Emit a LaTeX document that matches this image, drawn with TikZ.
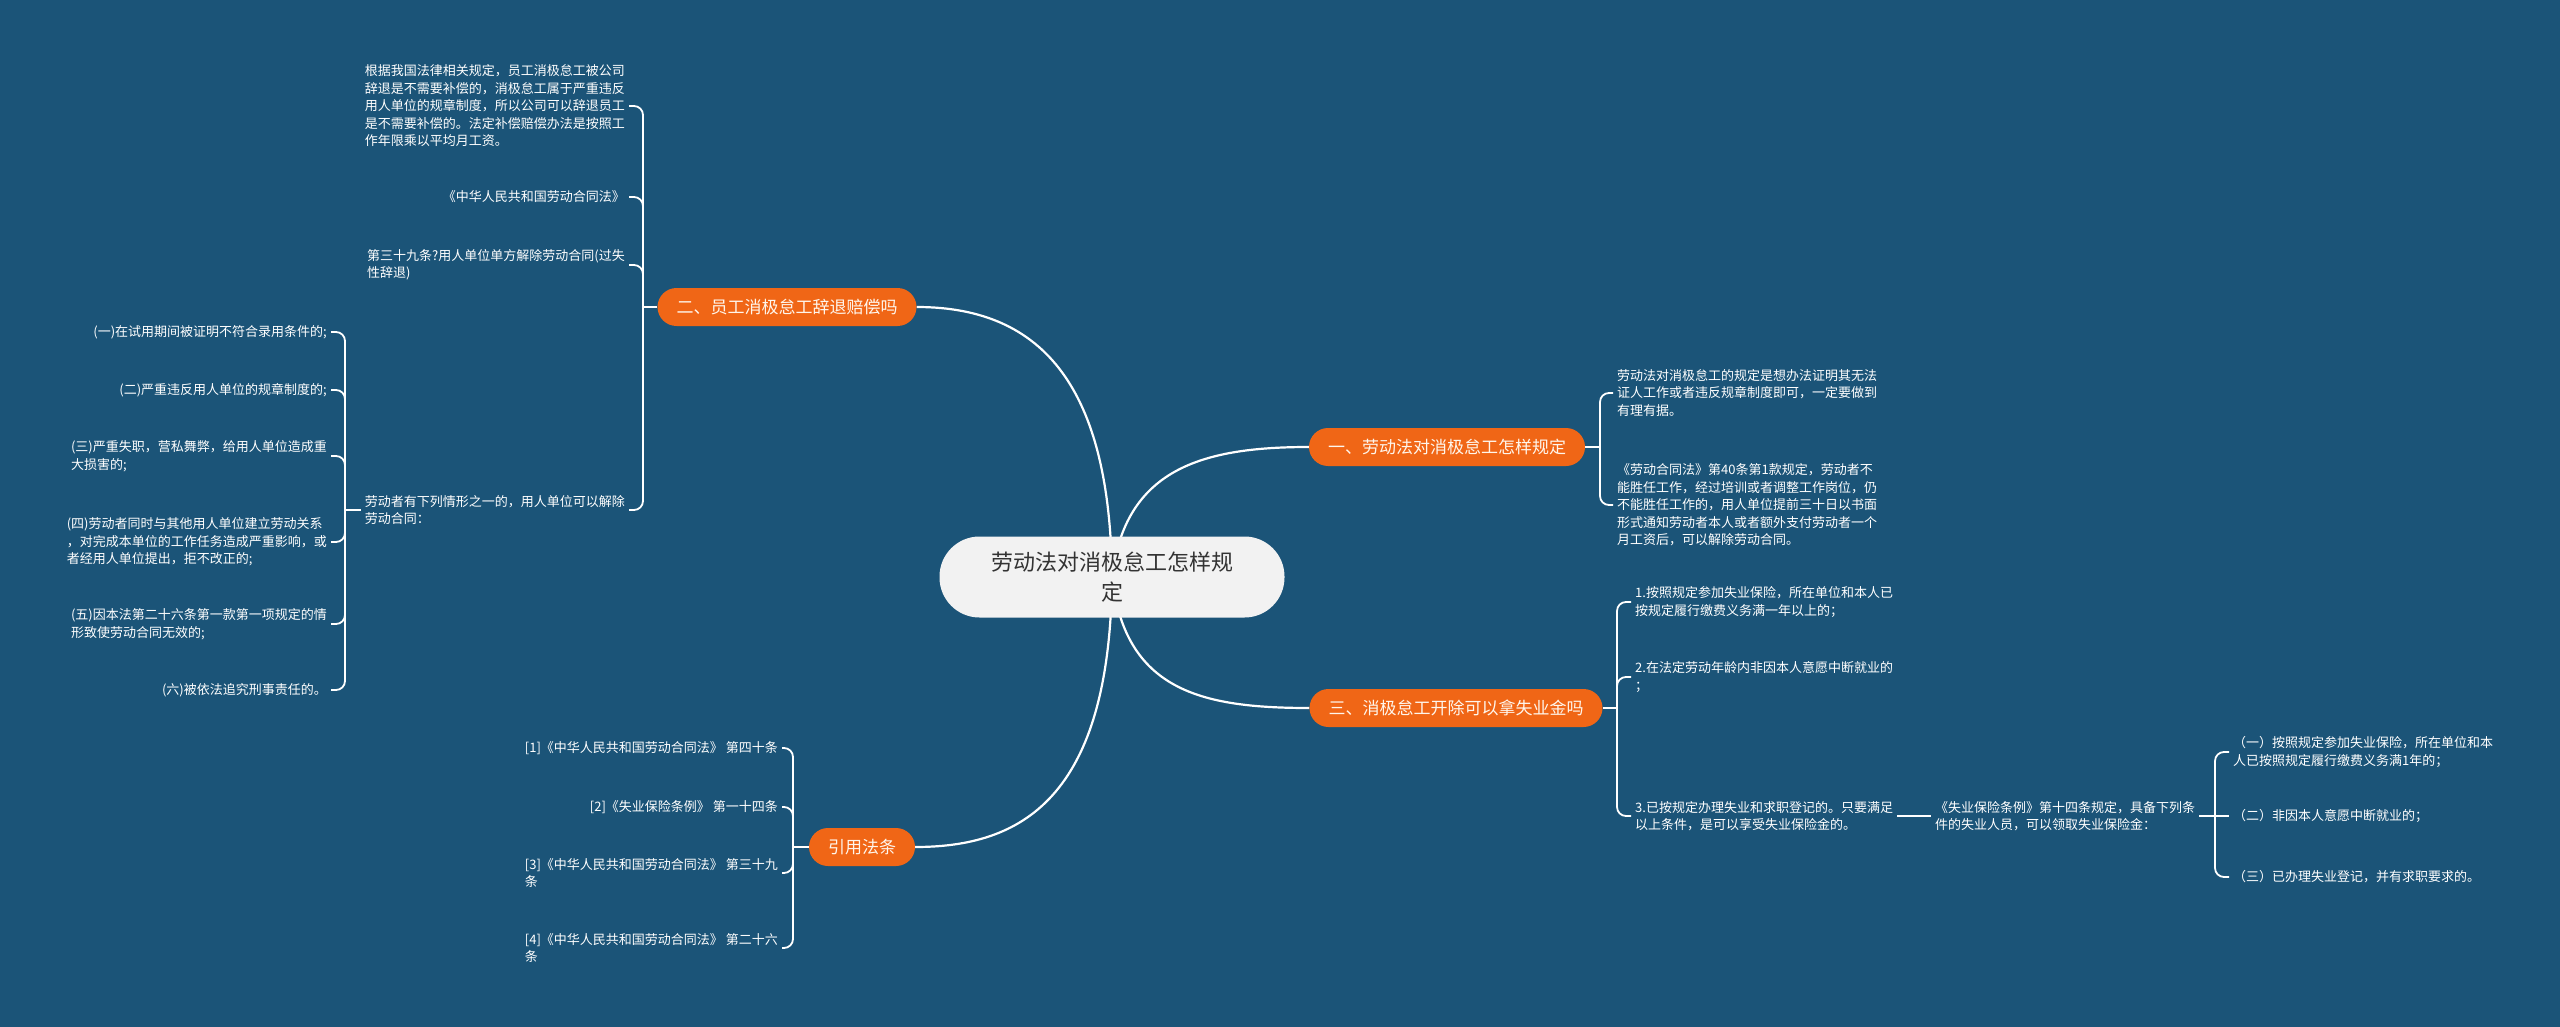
\documentclass[tikz,border=0pt]{standalone}
\usepackage{fontspec}
\setmainfont{Noto Sans CJK SC}
\definecolor{bgc}{RGB}{27,84,120}
\definecolor{orn}{RGB}{240,102,22}
\definecolor{cgray}{RGB}{242,242,242}
\definecolor{ctext}{RGB}{51,51,51}
\definecolor{otext}{RGB}{255,246,236}
\pgfdeclarelayer{bglayer}
\pgfdeclarelayer{lines}
\pgfsetlayers{bglayer,lines,main}
\begin{document}
\begin{tikzpicture}[x=1pt,y=-1pt,
  leafbase/.style={text=white, font=\fontsize{13}{17.5}\selectfont, inner sep=4pt, align=left},
  leafl/.style={leafbase, anchor=east},
  leafr/.style={leafbase, anchor=west},
  branchbox/.style={fill=orn, text=otext, font=\fontsize{17}{20}\selectfont, rounded corners=19pt, minimum height=38pt, inner xsep=19pt, inner ysep=0pt},
  rootbox/.style={fill=cgray, text=ctext, font=\fontsize{22}{30}\selectfont, rounded corners=40pt, minimum width=345pt, minimum height=81pt, align=center},
  mainline/.style={draw=white, line width=2.2pt},
  subline/.style={draw=white, line width=1.8pt, rounded corners=9pt},
]
\begin{pgfonlayer}{bglayer}
\fill[bgc] (0,0) rectangle (2560,1027);
\end{pgfonlayer}

% root and branches
\node[rootbox] (cen) at (1112,577) {劳动法对消极怠工怎样规\\定};
\node[branchbox] (b2) at (787,307) {二、员工消极怠工辞退赔偿吗};
\node[branchbox] (b1) at (1447,447) {一、劳动法对消极怠工怎样规定};
\node[branchbox] (b3) at (1456,708) {三、消极怠工开除可以拿失业金吗};
\node[branchbox] (b4) at (862,847) {引用法条};

% junctions
\coordinate (j2) at (643,307);
\coordinate (j4) at (345,510);
\coordinate (j1) at (1600,447);
\coordinate (j3) at (1617,708);
\coordinate (j5) at (2215,816);
\coordinate (j6) at (793,847);

% group 二
\node[leafl] (l1) at (629,106) {根据我国法律相关规定，员工消极怠工被公司\\辞退是不需要补偿的，消极怠工属于严重违反\\用人单位的规章制度，所以公司可以辞退员工\\是不需要补偿的。法定补偿赔偿办法是按照工\\作年限乘以平均月工资。};
\node[leafl] (l2) at (629,197) {《中华人民共和国劳动合同法》};
\node[leafl] (l3) at (629,265) {第三十九条?用人单位单方解除劳动合同(过失\\性辞退)};
\node[leafl] (l4) at (629,510) {劳动者有下列情形之一的，用人单位可以解除\\劳动合同：};

% group under l4
\node[leafl] (m1) at (331,332) {(一)在试用期间被证明不符合录用条件的;};
\node[leafl] (m2) at (331,390) {(二)严重违反用人单位的规章制度的;};
\node[leafl] (m3) at (331,456) {(三)严重失职，营私舞弊，给用人单位造成重\\大损害的;};
\node[leafl] (m4) at (331,542) {(四)劳动者同时与其他用人单位建立劳动关系\\，对完成本单位的工作任务造成严重影响，或\\者经用人单位提出，拒不改正的;};
\node[leafl] (m5) at (331,624) {(五)因本法第二十六条第一款第一项规定的情\\形致使劳动合同无效的;};
\node[leafl] (m6) at (331,690) {(六)被依法追究刑事责任的。};

% group 一
\node[leafr] (r1) at (1613,393) {劳动法对消极怠工的规定是想办法证明其无法\\证人工作或者违反规章制度即可，一定要做到\\有理有据。};
\node[leafr] (r2) at (1613,505) {《劳动合同法》第40条第1款规定，劳动者不\\能胜任工作，经过培训或者调整工作岗位，仍\\不能胜任工作的，用人单位提前三十日以书面\\形式通知劳动者本人或者额外支付劳动者一个\\月工资后，可以解除劳动合同。};

% group 三
\node[leafr] (s1) at (1631,602) {1.按照规定参加失业保险，所在单位和本人已\\按规定履行缴费义务满一年以上的；};
\node[leafr] (s2) at (1631,677) {2.在法定劳动年龄内非因本人意愿中断就业的\\；};
\node[leafr] (s3) at (1631,816) {3.已按规定办理失业和求职登记的。只要满足\\以上条件，是可以享受失业保险金的。};
\node[leafr] (t1) at (1931,816) {《失业保险条例》第十四条规定，具备下列条\\件的失业人员，可以领取失业保险金：};
\node[leafr] (u1) at (2229,752) {（一）按照规定参加失业保险，所在单位和本\\人已按照规定履行缴费义务满1年的；};
\node[leafr] (u2) at (2229,816) {（二）非因本人意愿中断就业的；};
\node[leafr] (u3) at (2229,877) {（三）已办理失业登记，并有求职要求的。};

% group 引用法条
\node[leafl] (c1) at (782,748) {{[1]}《中华人民共和国劳动合同法》 第四十条};
\node[leafl] (c2) at (782,807) {{[2]}《失业保险条例》 第一十四条};
\node[leafl] (c3) at (782,873) {{[3]}《中华人民共和国劳动合同法》 第三十九\\条};
\node[leafl] (c4) at (782,948) {{[4]}《中华人民共和国劳动合同法》 第二十六\\条};

\begin{pgfonlayer}{lines}
% main connectors
\draw[mainline] (cen.center) .. controls (1110,390) and (1045,307) .. (b2.east);
\draw[mainline] (cen.center) .. controls (1125,470) and (1200,447) .. (b1.west);
\draw[mainline] (cen.center) .. controls (1125,690) and (1200,708) .. (b3.west);
\draw[mainline] (cen.center) .. controls (1110,800) and (1020,847) .. (b4.east);

% group 二
\draw[subline] (b2.west) -- (j2);
\foreach \n in {l1,l2,l3,l4} \draw[subline] (j2) |- (\n.east);
\draw[subline] (l4.west) -- (j4);
\foreach \n in {m1,m2,m3,m4,m5,m6} \draw[subline] (j4) |- (\n.east);

% group 一
\draw[subline] (b1.east) -- (j1);
\foreach \n in {r1,r2} \draw[subline] (j1) |- (\n.west);

% group 三
\draw[subline] (b3.east) -- (j3);
\foreach \n in {s1,s2,s3} \draw[subline] (j3) |- (\n.west);
\draw[subline] (s3.east) -- (t1.west);
\draw[subline] (t1.east) -- (j5);
\foreach \n in {u1,u3} \draw[subline] (j5) |- (\n.west);
\draw[subline] (j5) -- (u2.west);

% group 引用法条
\draw[subline] (b4.west) -- (j6);
\foreach \n in {c1,c2,c3,c4} \draw[subline] (j6) |- (\n.east);
\end{pgfonlayer}
\end{tikzpicture}
\end{document}
